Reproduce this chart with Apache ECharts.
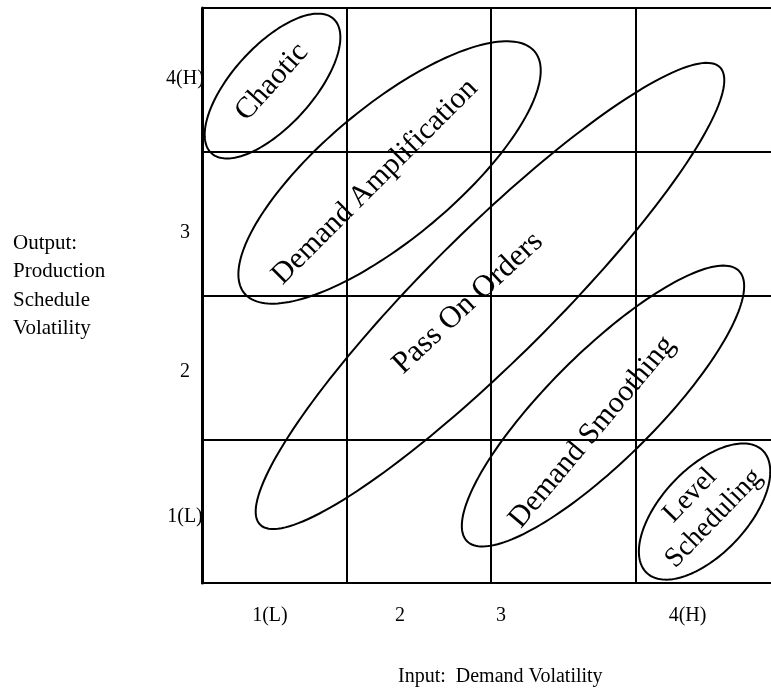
<!DOCTYPE html>
<html><head><meta charset="utf-8">
<script src="https://cdn.jsdelivr.net/npm/echarts@6/dist/echarts.min.js"></script>
<style>html,body{margin:0;padding:0;background:#fff}#c{width:771px;height:691px}</style>
</head><body><div id="c"></div>
<script>
// Tick labels and where they sit along each axis (data units, 0..4)
const xTickLabels = ['1(L)', '2', '3', '4(H)'];
const xTickPos = [0.47, 1.37, 2.07, 3.36];
const yTickLabels = ['1(L)', '2', '3', '4(H)'];
const yTickPos = [0.46, 1.47, 2.44, 3.51];

// Regions (ellipses) in data units
const regionNames = ['Chaotic', 'Demand Amplification', 'Pass On Orders', 'Demand Smoothing', 'Level\nScheduling'];
const centerX   = [0.488, 1.298, 1.993, 2.775, 3.478];
const centerY   = [3.457, 2.856, 1.997, 1.231, 0.497];
const semiMajor = [0.63, 1.31, 2.25, 1.33, 0.585];
const semiMinor = [0.278, 0.46, 0.443, 0.374, 0.298];
const tiltDeg   = [48, 40, 45, 45, 47];
const labelX    = [0.484, 1.197, 1.84, 2.70, 3.46];
const labelY    = [3.485, 2.79, 1.948, 1.05, 0.53];
const labelTilt = [48, 45, 43, 50, 46];

const FONT = "'Liberation Serif','Times New Roman',serif";
const labelSizes = [30, 30, 31, 30, 28];

const data = regionNames.map((n, i) => [centerX[i], centerY[i], semiMajor[i], semiMinor[i], tiltDeg[i], labelX[i], labelY[i], labelTilt[i]]);

function nearestLabel(v, pos, labels) {
  let best = 0;
  for (let i = 1; i < pos.length; i++) if (Math.abs(pos[i] - v) < Math.abs(pos[best] - v)) best = i;
  return labels[best];
}

const chart = echarts.init(document.getElementById('c'), null, {renderer: 'canvas'});
chart.setOption({
  animation: false,
  backgroundColor: '#fff',
  title: [
    {text: 'Output:\nProduction\nSchedule\nVolatility', left: 13, top: 229, padding: 0,
     textStyle: {fontFamily: FONT, fontSize: 21, fontWeight: 'normal', color: '#000', lineHeight: 28.5}},
    {text: 'Input:  Demand Volatility', left: 398, top: 667, padding: 0,
     textStyle: {fontFamily: FONT, fontSize: 20, fontWeight: 'normal', color: '#000'}}
  ],
  grid: {left: 202, top: 8, width: 578, height: 575, containLabel: false, outerBoundsMode: 'none'},
  xAxis: {
    type: 'value', min: 0, max: 4, interval: 1,
    axisLine: {show: true, onZero: false, lineStyle: {color: '#000', width: 2}},
    axisTick: {show: false},
    splitLine: {show: true, lineStyle: {color: '#000', width: 2}},
    axisLabel: {
      customValues: xTickPos, margin: 23,
      fontFamily: FONT, fontSize: 20, color: '#000',
      formatter: v => nearestLabel(v, xTickPos, xTickLabels)
    }
  },
  yAxis: {
    type: 'value', min: 0, max: 4, interval: 1,
    axisLine: {show: true, onZero: false, lineStyle: {color: '#000', width: 3}},
    axisTick: {show: false},
    splitLine: {show: true, lineStyle: {color: '#000', width: 2}},
    axisLabel: {
      customValues: yTickPos, margin: 17, align: 'center',
      fontFamily: FONT, fontSize: 20, color: '#000',
      formatter: v => nearestLabel(v, yTickPos, yTickLabels)
    }
  },
  series: [{
    type: 'custom',
    coordinateSystem: 'cartesian2d',
    clip: false,
    encode: {x: 0, y: 1},
    data: data,
    renderItem: function (params, api) {
      const i = params.dataIndex;
      const c = api.coord([api.value(0), api.value(1)]);
      const unit = api.size([1, 1]);
      const a = api.value(2), b = api.value(3), th = api.value(4) * Math.PI / 180;
      const pts = [];
      const N = 180;
      for (let k = 0; k < N; k++) {
        const t = 2 * Math.PI * k / N;
        const ex = a * Math.cos(t), ey = b * Math.sin(t);
        const dx = ex * Math.cos(th) - ey * Math.sin(th);
        const dy = ex * Math.sin(th) + ey * Math.cos(th);
        pts.push([c[0] + dx * unit[0], c[1] - dy * unit[1]]);
      }
      const lp = api.coord([api.value(5), api.value(6)]);
      return {
        type: 'group',
        children: [
          {type: 'polygon', shape: {points: pts}, style: {fill: 'none', stroke: '#000', lineWidth: 2}},
          {type: 'text', x: lp[0], y: lp[1], rotation: api.value(7) * Math.PI / 180,
           style: {text: regionNames[i], fontFamily: FONT, fontSize: labelSizes[i], fill: '#000',
                   align: 'center', verticalAlign: 'middle', lineHeight: labelSizes[i] + 5}}
        ]
      };
    }
  }]
});
</script>
</body></html>
